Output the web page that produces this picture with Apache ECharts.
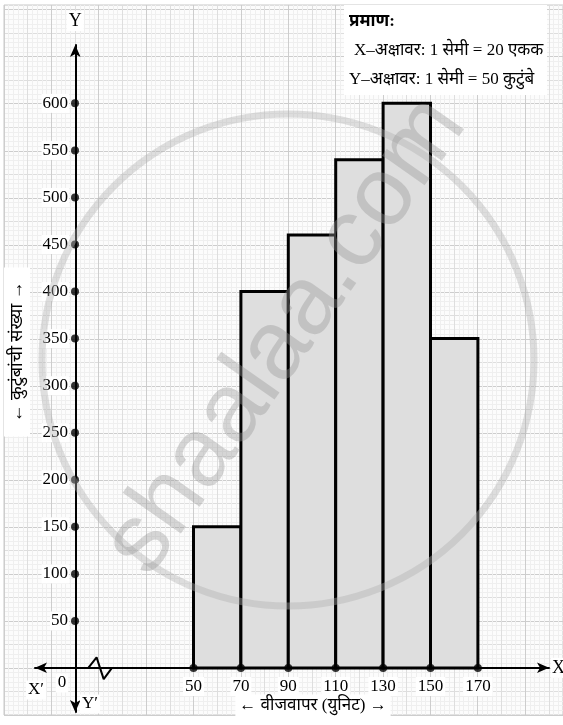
<!DOCTYPE html>
<html>
<head>
<meta charset="utf-8">
<script src="https://cdn.jsdelivr.net/npm/echarts@6/dist/echarts.min.js"></script>
<style>
html,body{margin:0;padding:0;background:#fff;}
#chart{width:563px;height:725px;}
</style>
</head>
<body>
<div id="chart"></div>
<script>
// class intervals (units of electricity) and number of families
var binStart = [50, 70, 90, 110, 130, 150];
var binEnd = [70, 90, 110, 130, 150, 170];
var families = [150, 400, 460, 540, 600, 350];
var xTicks = [50, 70, 90, 110, 130, 150, 170];
var yTicks = [50, 100, 150, 200, 250, 300, 350, 400, 450, 500, 550, 600];
// zigzag break on the x axis between 0 and 50
var breakMark = [[5.5, 0], [9, 11], [12, -12], [15.5, 0]];

var serif = '"Liberation Serif", "Times New Roman", "Noto Sans", serif';

var bars = binStart.map(function (s, i) { return [s, binEnd[i], families[i]]; });

var chart = echarts.init(document.getElementById('chart'));
var option = {
  backgroundColor: '#fff',
  animation: false,
  grid: [
    // data grid: origin at the corner
    {left: 75, right: 14, top: 45, bottom: 57, outerBoundsMode: 'none'},
    // graph paper
    {left: 4, right: 0, top: 5, bottom: 10, outerBoundsMode: 'none', show: true, backgroundColor: '#fcfcfc', borderColor: '#c8c8c8', borderWidth: 1, z: -1},
    // arrowed axis lines X'X and Y'Y
    {left: 35, right: 14, top: 45, bottom: 13, outerBoundsMode: 'none'}
  ],
  xAxis: [
    {
      type: 'value', gridIndex: 0, min: 0, max: 200,
      axisLine: {show: false},
      axisTick: {show: false},
      splitLine: {show: false},
      axisLabel: {
        customValues: xTicks, color: '#000', fontFamily: serif, fontSize: 17, margin: 9,
        backgroundColor: '#fff', padding: [1, 2]
      }
    },
    {
      type: 'value', gridIndex: 1, min: -30, max: 206, interval: 10,
      axisLine: {show: false}, axisTick: {show: false}, axisLabel: {show: false},
      minorTick: {show: false, splitNumber: 5},
      splitLine: {show: true, lineStyle: {color: ['#cdcdcd', '#dedede'], width: 1}},
      minorSplitLine: {show: true, lineStyle: {color: '#efefef', width: 1}}
    },
    {
      type: 'value', gridIndex: 2, min: -17, max: 200,
      axisLine: {onZero: true, lineStyle: {color: '#000', width: 2}, symbol: ['arrow', 'arrow'], symbolSize: [8, 12]},
      axisTick: {show: false}, axisLabel: {show: false}, splitLine: {show: false},
      name: 'X', nameLocation: 'end', nameGap: 2,
      nameTextStyle: {color: '#000', fontFamily: serif, fontSize: 18, backgroundColor: '#fff', padding: [1, 1]}
    }
  ],
  yAxis: [
    {
      type: 'value', gridIndex: 0, min: 0, max: 662,
      axisLine: {show: false},
      axisTick: {show: false},
      splitLine: {show: false},
      axisLabel: {
        customValues: yTicks, color: '#000', fontFamily: serif, fontSize: 17, margin: 6,
        backgroundColor: '#fff', padding: [1, 1]
      }
    },
    {
      type: 'value', gridIndex: 1, min: -50, max: 705, interval: 25,
      axisLine: {show: false}, axisTick: {show: false}, axisLabel: {show: false},
      minorTick: {show: false, splitNumber: 5},
      splitLine: {show: true, lineStyle: {color: ['#cdcdcd', '#dedede'], width: 1}},
      minorSplitLine: {show: true, lineStyle: {color: '#efefef', width: 1}}
    },
    {
      type: 'value', gridIndex: 2, min: -47, max: 662,
      axisLine: {onZero: true, lineStyle: {color: '#000', width: 2}, symbol: ['arrow', 'arrow'], symbolSize: [8, 12]},
      axisTick: {show: false}, axisLabel: {show: false}, splitLine: {show: false},
      name: 'Y', nameLocation: 'end', nameGap: 14,
      nameTextStyle: {color: '#000', fontFamily: serif, fontSize: 18, backgroundColor: '#fff', padding: [1, 2], align: 'center'}
    }
  ],
  series: [
    {
      type: 'custom', xAxisIndex: 0, yAxisIndex: 0, z: 3,
      encode: {x: [0, 1], y: 2},
      data: bars,
      renderItem: function (params, api) {
        var p0 = api.coord([api.value(0), api.value(2)]);
        var p1 = api.coord([api.value(1), 0]);
        return {
          type: 'rect',
          shape: {x: p0[0], y: p0[1], width: p1[0] - p0[0], height: p1[1] - p0[1]},
          style: {fill: '#dedede', stroke: '#000', lineWidth: 3}
        };
      }
    },
    {
      type: 'scatter', xAxisIndex: 0, yAxisIndex: 0, z: 6, clip: false,
      symbolSize: 8, itemStyle: {color: '#000'},
      data: xTicks.map(function (v) { return [v, 0]; })
    },
    {
      type: 'scatter', xAxisIndex: 0, yAxisIndex: 0, z: 6, clip: false,
      symbolSize: 8, itemStyle: {color: '#000'},
      data: yTicks.map(function (v) { return [0, v]; })
    },
    {
      type: 'line', xAxisIndex: 2, yAxisIndex: 2, z: 6,
      symbol: 'none', lineStyle: {color: '#000', width: 2},
      data: breakMark
    }
  ],
  graphic: [
    // watermark
    {
      type: 'circle', z: 100, silent: true,
      shape: {cx: 288, cy: 360, r: 246},
      style: {fill: 'none', stroke: 'rgba(175,175,175,0.4)', lineWidth: 7}
    },
    {
      type: 'text', z: 100, silent: true,
      x: 286, y: 336, rotation: 55 * Math.PI / 180,
      style: {
        text: 'shaalaa.com', fill: 'rgba(150,150,150,0.38)', fontSize: 98,
        fontFamily: '"Liberation Sans", Arial, sans-serif', align: 'center', verticalAlign: 'middle'
      }
    },
    // scale box
    {
      type: 'rect', z: 50, shape: {x: 344, y: 5, width: 203, height: 90},
      style: {fill: '#fff'}
    },
    {
      type: 'text', z: 51, x: 349, y: 22,
      style: {text: 'प्रमाण:', fontFamily: serif, fontSize: 17, fontWeight: 'bold', fill: '#000', verticalAlign: 'middle'}
    },
    {
      type: 'text', z: 51, x: 354, y: 51,
      style: {text: 'X–अक्षावर: 1 सेमी = 20 एकक', fontFamily: serif, fontSize: 17, fill: '#000', verticalAlign: 'middle'}
    },
    {
      type: 'text', z: 51, x: 349, y: 80,
      style: {text: 'Y–अक्षावर: 1 सेमी = 50 कुटुंबे', fontFamily: serif, fontSize: 17, fill: '#000', verticalAlign: 'middle'}
    },
    // axis titles and origin marks
    {
      type: 'text', z: 51, x: 17, y: 352, rotation: Math.PI / 2,
      style: {
        text: '← कुटुंबांची संख्या →', fontFamily: serif, fontSize: 18, fill: '#000',
        align: 'center', verticalAlign: 'middle', backgroundColor: '#fff', padding: [4, 14]
      }
    },
    {
      type: 'text', z: 51, x: 313, y: 706,
      style: {
        text: '← वीजवापर (युनिट) →', fontFamily: serif, fontSize: 17, fill: '#000',
        align: 'center', verticalAlign: 'middle', backgroundColor: '#fff', padding: [3, 4]
      }
    },
    {
      type: 'text', z: 51, x: 62, y: 683,
      style: {text: '0', fontFamily: serif, fontSize: 17, fill: '#000', align: 'center', verticalAlign: 'middle', backgroundColor: '#fff', padding: [1, 2]}
    },
    {
      type: 'text', z: 51, x: 36, y: 690,
      style: {text: 'X′', fontFamily: serif, fontSize: 17, fill: '#000', align: 'center', verticalAlign: 'middle', backgroundColor: '#fff', padding: [1, 2]}
    },
    {
      type: 'text', z: 51, x: 90, y: 704,
      style: {text: 'Y′', fontFamily: serif, fontSize: 17, fill: '#000', align: 'center', verticalAlign: 'middle', backgroundColor: '#fff', padding: [1, 2]}
    }
  ]
};
chart.setOption(option);
</script>
</body>
</html>
